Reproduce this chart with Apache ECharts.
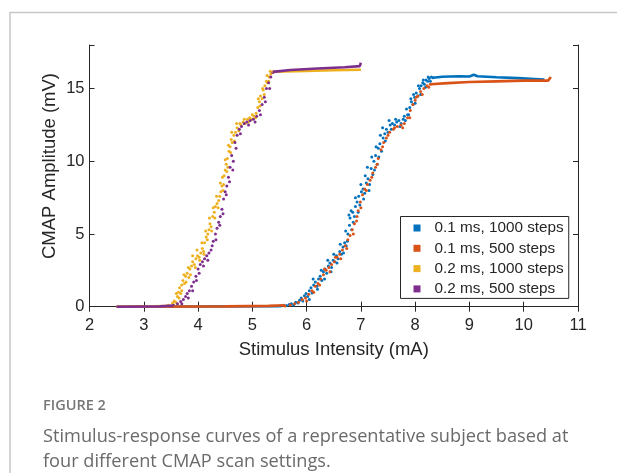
<!DOCTYPE html>
<html><head><meta charset="utf-8">
<script src="https://cdn.jsdelivr.net/npm/echarts@6/dist/echarts.min.js"></script>
<style>html,body{margin:0;padding:0;background:#fff}#c{width:617px;height:473px}</style>
</head><body><div id="c"></div>
<script>
const seriesNames = ['0.1 ms, 1000 steps','0.1 ms, 500 steps','0.2 ms, 1000 steps','0.2 ms, 500 steps'];
const xTicks = [2,3,4,5,6,7,8,9,10,11];
const yTicks = [0,5,10,15];
const yMax = 18;
const xTitle = 'Stimulus Intensity (mA)';
const yTitle = 'CMAP Amplitude (mV)';
const captionHead = 'FIGURE 2';
const captionLines = ['Stimulus-response curves of a representative subject based at','four different CMAP scan settings.'];

// rising (scattered) parts
const blue1000 = [[5.52,0.05],[5.58,0.1],[5.63,0.08],[5.68,0.15],[5.72,0.2],[5.76,0.12],[5.8,0.3],[5.84,0.25],[5.87,0.45],[5.9,0.6],[5.93,0.4],[5.96,0.75],[5.99,0.9],[6.02,0.7],[6.05,1.1],[6.08,1.3],[6.1,0.95],[6.13,1.5],[6.16,1.7],[6.19,1.4],[6.22,1.9],[6.25,2.1],[6.28,1.8],[6.31,2.4],[6.34,2.6],[6.37,2.3],[6.4,2.8],[6.43,3.0],[6.46,2.7],[6.49,3.2],[6.52,3.1],[6.55,3.5],[6.58,3.3],[6.61,3.8],[6.64,3.6],[6.67,4.1],[6.7,4.4],[6.73,4.2],[6.76,5.0],[6.79,5.6],[6.8,6.1],[6.83,5.3],[6.85,6.5],[6.88,6.2],[6.9,6.9],[6.93,7.2],[6.96,7.6],[6.98,7.0],[7.01,7.9],[7.04,8.1],[7.07,7.8],[7.1,8.5],[7.13,8.8],[7.16,8.4],[7.19,9.5],[7.22,9.1],[7.24,10.0],[7.27,10.4],[7.3,9.8],[7.32,10.9],[7.35,11.2],[7.38,10.7],[7.41,11.6],[7.44,11.9],[7.47,12.2],[7.5,12.0],[7.54,12.5],[7.58,12.6],[7.62,12.5],[7.66,12.7],[7.7,12.8],[7.74,12.6],[7.78,12.9],[7.82,12.8],[7.86,13.2],[7.9,13.7],[7.93,14.1],[7.96,13.9],[7.99,14.4],[8.02,14.7],[8.05,14.5],[8.08,15.0],[8.11,15.2],[8.14,15.4],[8.17,15.3],[8.2,15.6],[8.23,15.5],[8.26,15.7],[8.3,15.8],[8.33,15.75],
  [6.05,0.5],[6.12,1.9],[6.2,1.2],[6.27,2.5],[6.33,1.9],[6.39,3.2],[6.45,2.4],[6.5,3.6],[6.56,3.0],[6.62,4.3],[6.68,3.7],[6.72,5.2],[6.75,4.5],[6.78,6.3],[6.82,6.6],[6.86,5.8],[6.9,7.5],[6.95,6.5],[7.0,8.4],[7.05,7.4],[7.08,9.0],[7.12,9.6],[7.15,8.0],[7.2,10.3],[7.25,9.4],[7.28,11.0],[7.33,10.3],[7.36,11.8],[7.4,12.3],[7.45,11.4],[7.52,12.8],[7.56,12.2],[7.64,12.9],[7.72,12.4],[7.8,13.1],[7.84,13.6],[7.88,13.2],[7.92,14.3],[7.97,14.6],[8.0,14.0],[8.06,15.2],[8.1,14.6],[8.15,15.6],[8.19,15.1],[8.24,15.8],[8.28,15.5]];
const orange500 = [[5.6,0.05],[5.7,0.12],[5.78,0.2],[5.85,0.3],[5.92,0.5],[5.98,0.6],[6.04,0.85],[6.1,1.1],[6.16,1.4],[6.21,1.6],[6.26,1.9],[6.31,2.2],[6.36,2.5],[6.41,2.7],[6.46,2.9],[6.51,3.1],[6.56,3.4],[6.61,3.6],[6.66,3.9],[6.71,4.2],[6.76,4.6],[6.8,4.9],[6.84,5.3],[6.88,5.7],[6.92,5.9],[6.95,6.6],[6.99,7.2],[7.03,7.7],[7.07,8.1],[7.12,8.4],[7.17,8.7],[7.22,9.2],[7.27,9.6],[7.32,10.2],[7.37,10.8],[7.42,11.3],[7.47,11.6],[7.53,12.0],[7.6,12.2],[7.67,12.4],[7.74,12.5],[7.8,12.6],[7.86,13.0],[7.91,13.5],[7.96,13.9],[8.0,14.2],[8.05,14.5],[8.1,14.8],[8.16,15.0],[8.22,15.2],[8.28,15.3],
  [6.0,0.4],[6.13,1.0],[6.24,1.5],[6.33,2.6],[6.43,2.4],[6.53,3.4],[6.63,3.3],[6.74,4.0],[6.86,5.0],[6.93,6.2],[7.0,6.8],[7.1,8.0],[7.2,8.9],[7.3,9.8],[7.4,11.0],[7.5,11.8],[7.62,12.3],[7.77,12.3],[7.9,13.0],[8.02,14.4],[8.13,14.6],[8.25,15.1]];
const yellow1000 = [[3.45,0.1],[3.5,0.05],[3.53,0.25],[3.56,0.4],[3.59,0.3],[3.62,0.7],[3.64,1.0],[3.66,1.3],[3.68,0.9],[3.7,1.5],[3.72,1.8],[3.75,1.6],[3.77,2.1],[3.8,2.3],[3.83,2.0],[3.85,2.6],[3.88,2.8],[3.9,3.1],[3.93,2.9],[3.96,3.3],[3.99,3.5],[4.02,3.4],[4.05,3.7],[4.08,4.0],[4.1,3.8],[4.12,4.4],[4.15,4.8],[4.17,4.6],[4.2,5.3],[4.22,5.7],[4.24,5.5],[4.27,6.2],[4.3,6.5],[4.32,6.9],[4.35,7.1],[4.37,6.8],[4.4,7.6],[4.42,7.9],[4.44,8.3],[4.46,8.0],[4.48,9.0],[4.5,9.4],[4.52,9.8],[4.54,10.2],[4.55,9.6],[4.57,10.7],[4.59,11.0],[4.61,11.5],[4.63,11.3],[4.66,11.8],[4.69,12.0],[4.72,12.3],[4.75,12.1],[4.79,12.5],[4.83,12.7],[4.87,12.6],[4.91,12.9],[4.95,13.0],[4.99,12.9],[5.03,13.1],[5.07,13.3],[5.1,13.7],[5.13,14.1],[5.15,14.5],[5.18,14.3],[5.2,14.9],[5.23,15.2],[5.26,15.5],[5.28,15.4],[5.31,15.8],[5.34,16.0],[5.37,16.15],
  [3.6,0.9],[3.65,0.6],[3.7,1.1],[3.74,2.2],[3.78,1.7],[3.82,2.7],[3.86,2.2],[3.9,3.5],[3.95,2.7],[3.98,3.9],[4.03,3.2],[4.07,4.4],[4.11,3.6],[4.14,5.2],[4.18,5.0],[4.21,6.1],[4.25,5.2],[4.28,6.8],[4.31,6.1],[4.34,7.6],[4.38,7.3],[4.41,8.5],[4.45,8.9],[4.47,8.4],[4.5,10.1],[4.53,9.3],[4.56,11.1],[4.6,10.6],[4.62,12.0],[4.67,11.4],[4.71,12.6],[4.77,12.6],[4.85,12.9],[4.93,12.7],[5.0,13.2],[5.06,13.0],[5.11,14.3],[5.14,13.8],[5.19,15.0],[5.22,14.6],[5.27,15.9],[5.3,15.5],[5.33,16.2]];
const purple500 = [[3.55,0.1],[3.62,0.2],[3.68,0.35],[3.73,0.5],[3.77,0.7],[3.8,0.9],[3.84,1.1],[3.88,1.4],[3.92,1.7],[3.96,2.1],[4.0,2.6],[4.04,2.9],[4.08,3.1],[4.12,3.3],[4.16,3.5],[4.2,3.7],[4.24,3.9],[4.28,4.5],[4.32,5.0],[4.35,5.4],[4.38,5.8],[4.41,6.2],[4.44,6.7],[4.47,7.4],[4.5,7.9],[4.53,8.3],[4.56,8.9],[4.59,9.6],[4.62,10.4],[4.65,10.0],[4.68,11.3],[4.72,11.8],[4.76,12.2],[4.8,12.4],[4.85,12.6],[4.9,12.7],[4.96,12.8],[5.02,12.9],[5.08,13.1],[5.13,13.5],[5.18,13.9],[5.22,14.4],[5.26,15.0],[5.3,15.4],[5.34,15.8],[5.38,16.1],
  [3.7,0.2],[3.82,0.6],[3.9,1.1],[3.97,1.8],[4.02,2.3],[4.1,2.8],[4.18,3.2],[4.26,4.2],[4.33,4.6],[4.4,5.6],[4.46,6.4],[4.52,7.7],[4.58,8.6],[4.64,9.4],[4.7,10.9],[4.78,11.9],[4.93,12.5],[5.05,12.7],[5.15,13.2],[5.24,14.1],[5.32,15.0]];

// dense flat parts (baseline and plateau)
const blueFlat = [[2.5,0],[5.5,0.03]];
const blueTop = [[8.33,15.75],[8.5,15.82],[8.8,15.85],[9.0,15.83],[9.08,15.95],[9.15,15.85],[9.5,15.78],[9.9,15.72],[10.2,15.66],[10.38,15.62]];
const orangeFlat = [[2.5,0],[4.5,0.02],[5.3,0.06],[5.6,0.1]];
const orangeTop = [[8.28,15.3],[8.6,15.38],[9.0,15.45],[9.5,15.5],[10.0,15.55],[10.45,15.55],[10.5,15.8]];
const yellowFlat = [[2.5,0],[3.45,0.05]];
const yellowTop = [[5.37,16.15],[5.6,16.18],[6.0,16.22],[6.5,16.26],[7.0,16.3]];
const purpleFlat = [[2.5,0],[3.3,0.02],[3.55,0.08]];
const purpleTop = [[5.38,16.15],[5.7,16.28],[6.2,16.38],[6.7,16.47],[6.98,16.55],[7.0,16.78]];

const colors = ['#0072BD','#D95319','#EDB120','#7E2F8E'];
const scatterSets = [blue1000, orange500, yellow1000, purple500];
const flatSets = [[blueFlat, blueTop],[orangeFlat, orangeTop],[yellowFlat, yellowTop],[purpleFlat, purpleTop]];

const FONT = 'Liberation Sans, Arial, sans-serif';
const AX = '#262626';
const chart = echarts.init(document.getElementById('c'), null, {renderer:'canvas'});

const series = [];
for (let i = 0; i < 4; i++) {
  series.push({type:'scatter', name:seriesNames[i], data:scatterSets[i], symbol:'circle', symbolSize:3,
    itemStyle:{color:colors[i], opacity:1}, xAxisIndex:0, yAxisIndex:0, silent:true});
  for (const seg of flatSets[i]) {
    series.push({type:'line', name:seriesNames[i], data:seg, showSymbol:false, symbol:'none',
      lineStyle:{color:colors[i], width:2.6}, itemStyle:{color:colors[i]}, xAxisIndex:0, yAxisIndex:0, silent:true});
  }
}

const tickStyle = {inside:true, length:5, lineStyle:{color:AX, width:1}};
chart.setOption({
  animation:false,
  grid:{left:89.5, top:45, width:488.5, height:261.7, containLabel:false},
  xAxis:[
    {type:'value', min:xTicks[0], max:xTicks[xTicks.length-1], interval:1, position:'bottom',
     axisLine:{show:true, lineStyle:{color:AX, width:1}}, axisTick:tickStyle, splitLine:{show:false},
     axisLabel:{fontFamily:FONT, fontSize:16.5, color:AX, margin:10},
     name:xTitle, nameLocation:'middle', nameGap:34, nameTextStyle:{fontFamily:FONT, fontSize:18.5, color:AX}},
    {type:'value', min:xTicks[0], max:xTicks[xTicks.length-1], interval:1, position:'top',
     axisLine:{show:true, lineStyle:{color:AX, width:1}}, axisTick:tickStyle, splitLine:{show:false},
     axisLabel:{show:false}}
  ],
  yAxis:[
    {type:'value', min:yTicks[0], max:yMax, interval:5, position:'left',
     axisLine:{show:true, lineStyle:{color:AX, width:1}}, axisTick:tickStyle, splitLine:{show:false},
     axisLabel:{fontFamily:FONT, fontSize:16.5, color:AX, margin:5,
       formatter:function(v){return yTicks.indexOf(v) >= 0 ? String(v) : '';}}},
    {type:'value', min:yTicks[0], max:yMax, interval:5, position:'right',
     axisLine:{show:true, lineStyle:{color:AX, width:1}}, axisTick:tickStyle, splitLine:{show:false},
     axisLabel:{show:false}}
  ],
  legend:{show:true, data:seriesNames, orient:'vertical', left:400.5, top:216.5,
    icon:'rect', itemWidth:7, itemHeight:7, itemGap:5.3,
    padding:[4, 5, 2, 13], borderColor:AX, borderWidth:1, backgroundColor:'#fff',
    textStyle:{fontFamily:FONT, fontSize:15.3, color:AX, lineHeight:15, padding:[0,0,0,9]},
    selectedMode:false},
  graphic:[
    {type:'polyline', shape:{points:[[10,473],[10,12.5],[617,12.5]]}, style:{stroke:'#c8c8c8', lineWidth:1.5, fill:null}, silent:true},
    {type:'text', x:50, y:166, rotation:Math.PI/2, style:{text:yTitle, fontFamily:FONT, fontSize:18.5, fill:AX, align:'center', verticalAlign:'middle'}},
    {type:'text', x:43, y:406, style:{text:captionHead, fontFamily:'Open Sans, sans-serif', fontWeight:600, fontSize:14.5, fill:'#777', align:'left', verticalAlign:'middle'}},
    {type:'text', x:43, y:437, style:{text:captionLines[0], fontFamily:'Open Sans, sans-serif', fontSize:18.2, fill:'#6a6a6a', align:'left', verticalAlign:'middle'}},
    {type:'text', x:43, y:462, style:{text:captionLines[1], fontFamily:'Open Sans, sans-serif', fontSize:18.2, fill:'#6a6a6a', align:'left', verticalAlign:'middle'}}
  ],
  series:series
});
</script></body></html>
